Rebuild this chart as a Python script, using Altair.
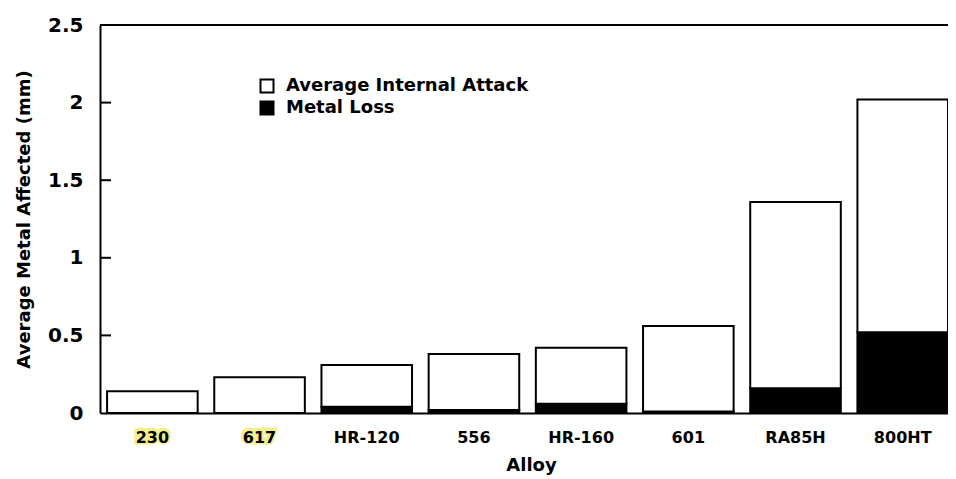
import altair as alt
import pandas as pd

# ---- data ----
alloys = ["230", "617", "HR-120", "556", "HR-160", "601", "RA85H", "800HT"]
total_affected = [0.14, 0.23, 0.31, 0.38, 0.42, 0.56, 1.36, 2.02]
metal_loss = [0.0, 0.0, 0.04, 0.02, 0.06, 0.01, 0.16, 0.52]
series = ["Average Internal Attack", "Metal Loss"]
y_tick_values = [0, 0.5, 1, 1.5, 2, 2.5]
inner_ticks = [0.5, 1, 1.5, 2]
highlighted = ["230", "617"]

FONT = "DejaVu Sans"
W, H = 848, 388

rows = []
for a, tot, loss in zip(alloys, total_affected, metal_loss):
    rows.append({"alloy": a, "series": series[1], "y0": 0.0, "y1": loss})
    rows.append({"alloy": a, "series": series[0], "y0": loss, "y1": tot})
df = pd.DataFrame(rows)

x_enc = alt.X(
    "alloy:N",
    scale=alt.Scale(domain=alloys, paddingInner=0.155, paddingOuter=0.033, align=1),
    axis=alt.Axis(
        title="Alloy", titleFont=FONT, titleFontSize=18, titleFontWeight="bold",
        titleColor="black", titlePadding=11, titleX=431,
        labelFont=FONT, labelFontSize=16, labelFontWeight="bold", labelColor="black",
        labelPadding=16, labelAngle=0, ticks=False, tickSize=0,
        domain=True, domainColor="black", domainWidth=2, zindex=1,
    ),
)
y_enc = alt.Y(
    "y1:Q",
    scale=alt.Scale(domain=[0, 2.5], nice=False, zero=True),
    axis=alt.Axis(
        title="Average Metal Affected (mm)", titleFont=FONT, titleFontSize=18,
        titleFontWeight="bold", titleColor="black", titlePadding=14,
        values=y_tick_values, format="~g",
        labelFont=FONT, labelFontSize=20, labelFontWeight="bold", labelColor="black",
        labelPadding=17, ticks=False, tickSize=0, grid=False,
        domain=True, domainColor="black", domainWidth=2, zindex=1,
    ),
)

bars = alt.Chart(df).mark_bar(stroke="black", strokeWidth=2).encode(
    x=x_enc,
    y=y_enc,
    y2="y0:Q",
    fill=alt.Fill(
        "series:N",
        scale=alt.Scale(domain=series, range=["white", "black"]),
        legend=alt.Legend(
            orient="none", legendX=158, legendY=52, title=None,
            symbolType="square", symbolSize=169, symbolStrokeColor="black",
            symbolStrokeWidth=2, labelFont=FONT, labelFontSize=18,
            labelFontWeight="bold", labelColor="black", labelOffset=10,
            labelLimit=0, rowPadding=0, padding=0,
        ),
    ),
)

ticks_df = pd.DataFrame({"y1": inner_ticks})
tick_marks = alt.Chart(ticks_df).mark_rule(color="black", strokeWidth=2).encode(
    y=y_enc, x=alt.value(0), x2=alt.value(11)
)

top_df = pd.DataFrame({"y1": [2.5]})
top_line = alt.Chart(top_df).mark_rule(color="black", strokeWidth=2).encode(y=y_enc)

halo_df = pd.DataFrame({"alloy": highlighted})
halo = alt.Chart(halo_df).mark_text(
    font=FONT, fontSize=16, fontWeight="bold", baseline="top",
    fill="#eeea5c", stroke="#eeea5c", strokeWidth=5, opacity=0.7,
).encode(x=x_enc, y=alt.value(H + 16), text="alloy:N")

chart = alt.layer(halo, bars, tick_marks, top_line).properties(
    width=W, height=H,
    autosize=alt.AutoSizeParams(type="none"),
    padding={"left": 92, "top": 17, "right": 0, "bottom": 66},
).configure_view(stroke=None).configure(background="white")

chart.save("out.html", embed_options={"renderer": "svg", "actions": False})
